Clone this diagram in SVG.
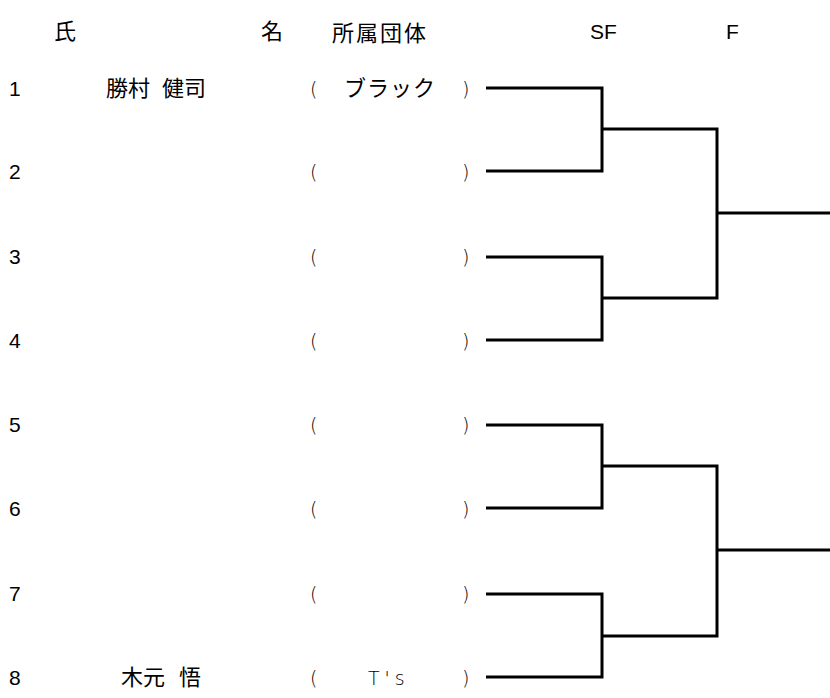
<svg xmlns="http://www.w3.org/2000/svg" width="830" height="698" viewBox="0 0 830 698">
<style>
text{font-family:"Liberation Sans","Noto Sans CJK JP",sans-serif;font-size:21px;fill:#000}
.j{font-family:"Noto Sans CJK JP",sans-serif;font-size:22px}
.p{font-family:"DejaVu Sans","Noto Sans CJK JP",sans-serif;font-weight:300;font-size:19px;fill:#000}
.c path{fill:none;stroke:#000;stroke-width:3}
</style>
<rect width="830" height="698" fill="#fff"/>
<g id="header">
<text class="j" x="54" y="39">氏</text>
<text class="j" x="261" y="39">名</text>
<text class="j" x="332" y="41" font-size="25" letter-spacing="2">所属団体</text>
<text x="590" y="39">SF</text>
<text x="726" y="39">F</text>
</g>
<g id="p1"><text x="9" y="96">1</text><text class="j" x="106" y="96">勝村</text><text class="j" x="162" y="96">健司</text><text class="p" x="310" y="96">(</text><text class="j" x="344" y="96" letter-spacing="1">ブラック</text><text class="p" x="462" y="96">)</text></g>
<g id="p2"><text x="9" y="179">2</text><text class="p" x="310" y="179">(</text><text class="p" x="462" y="179">)</text></g>
<g id="p3"><text x="9" y="264">3</text><text class="p" x="310" y="264">(</text><text class="p" x="462" y="264">)</text></g>
<g id="p4"><text x="9" y="348">4</text><text class="p" x="310" y="348">(</text><text class="p" x="462" y="348">)</text></g>
<g id="p5"><text x="9" y="432">5</text><text class="p" x="310" y="432">(</text><text class="p" x="462" y="432">)</text></g>
<g id="p6"><text x="9" y="516">6</text><text class="p" x="310" y="516">(</text><text class="p" x="462" y="516">)</text></g>
<g id="p7"><text x="9" y="601">7</text><text class="p" x="310" y="601">(</text><text class="p" x="462" y="601">)</text></g>
<g id="p8"><text x="9" y="685">8</text><text class="j" x="121" y="685">木元</text><text class="j" x="179" y="685">悟</text><text class="p" x="310" y="685">(</text><text class="p" x="368" y="685" letter-spacing="5">T's</text><text class="p" x="462" y="685">)</text></g>
<g class="c" id="connectors">
<path d="M486 88H602V171H486"/>
<path d="M486 257H602V340H486"/>
<path d="M602 129H717V298H602"/>
<path d="M717 213H830"/>
<path d="M486 425H602V508H486"/>
<path d="M486 594H602V677H486"/>
<path d="M602 466H717V636H602"/>
<path d="M717 550H830"/>
</g>
</svg>
